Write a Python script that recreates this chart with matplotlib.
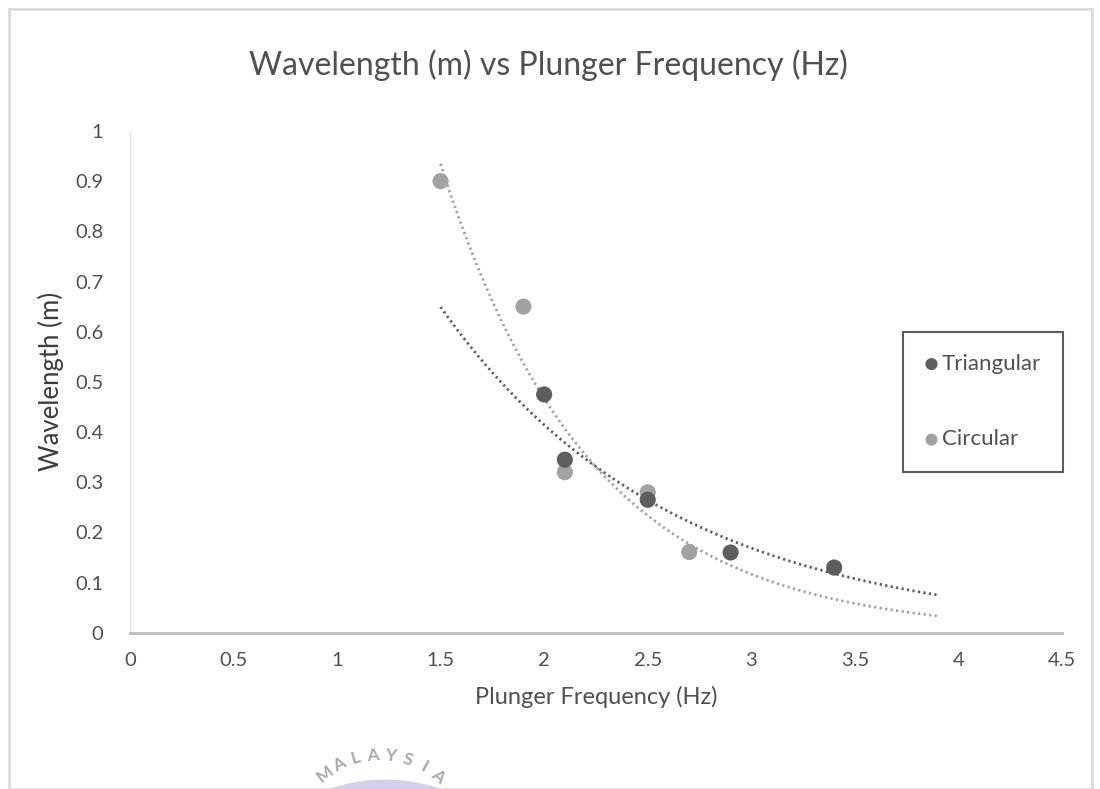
import numpy as np
import matplotlib.pyplot as plt
from matplotlib.patches import Rectangle, Ellipse

# data
tri_freq = [2.0, 2.1, 2.5, 2.9, 3.4]
tri_wave = [0.475, 0.345, 0.265, 0.16, 0.13]
circ_freq = [1.5, 1.9, 2.1, 2.5, 2.7]
circ_wave = [0.9, 0.65, 0.32, 0.28, 0.161]

x_ticks = [0, 0.5, 1, 1.5, 2, 2.5, 3, 3.5, 4, 4.5]
x_labels = ['0', '0.5', '1', '1.5', '2', '2.5', '3', '3.5', '4', '4.5']
y_ticks = [0, 0.1, 0.2, 0.3, 0.4, 0.5, 0.6, 0.7, 0.8, 0.9, 1]
y_labels = ['0', '0.1', '0.2', '0.3', '0.4', '0.5', '0.6', '0.7', '0.8', '0.9', '1']

TRI_COL = '#5e5e5e'
CIRC_COL = '#a2a2a2'
TXT_COL = '#505050'

plt.rcParams['font.family'] = ['Lato', 'DejaVu Sans']

fig = plt.figure(figsize=(11, 7.89), dpi=100)
ax = fig.add_axes([0.118, 0.198, 0.8475, 0.636])


def exp_trend(xs, ys, x0, x1):
    # excel style exponential trendline
    b, lna = np.polyfit(xs, np.log(ys), 1)
    xx = np.linspace(x0, x1, 200)
    return xx, np.exp(lna) * np.exp(b * xx)


xx, yy = exp_trend(tri_freq, tri_wave, 1.5, 3.9)
ax.plot(xx, yy, color=TRI_COL, lw=2, ls=(0, (0.8, 1.2)), zorder=2)
xx, yy = exp_trend(circ_freq, circ_wave, 1.5, 3.9)
ax.plot(xx, yy, color=CIRC_COL, lw=2, ls=(0, (0.8, 1.2)), zorder=2)

ax.scatter(tri_freq, tri_wave, s=135, color=TRI_COL, edgecolors='none', zorder=4, label='Triangular')
ax.scatter(circ_freq, circ_wave, s=135, color=CIRC_COL, edgecolors='none', zorder=3, label='Circular')

ax.set_xlim(0, 4.5)
ax.set_ylim(0, 1)
ax.set_xticks(x_ticks)
ax.set_xticklabels(x_labels)
ax.set_yticks(y_ticks)
ax.set_yticklabels(y_labels)
ax.tick_params(length=0, labelsize=14.5, colors=TXT_COL)
ax.tick_params(axis='x', pad=14)
ax.tick_params(axis='y', pad=19)

for side in ['top', 'right']:
    ax.spines[side].set_visible(False)
ax.spines['bottom'].set_color('#bdbdbd')
ax.spines['bottom'].set_linewidth(2)
ax.spines['left'].set_color('#e4e4e4')
ax.spines['left'].set_linewidth(1)

ax.set_xlabel('Plunger Frequency (Hz)', fontsize=17, color=TXT_COL, labelpad=12)
ax.set_ylabel('Wavelength (m)', fontsize=18.5, color='#3c3c3c', labelpad=8)
fig.text(0.499, 0.917, 'Wavelength (m) vs Plunger Frequency (Hz)', ha='center', va='center',
         fontsize=23, color=TXT_COL)

leg = ax.legend(loc='upper left', bbox_to_anchor=(0.829, 0.600), borderaxespad=0,
                frameon=True, fancybox=False, fontsize=16, labelspacing=2.5,
                handlelength=0.6, handletextpad=0.15, borderpad=1.0,
                markerscale=0.75, labelcolor=TXT_COL)
leg.get_frame().set_edgecolor('#333333')
leg.get_frame().set_linewidth(1.5)

# faint outer chart border from the scan
fig.patches.append(Rectangle((0.008, 0.0), 0.985, 0.988, transform=fig.transFigure,
                             fill=False, edgecolor='#dcdcdc', lw=2))

# watermark logo peeking in at the bottom
fig.patches.append(Ellipse((0.35, -0.206), 2 * 0.156, 2 * 0.218, transform=fig.transFigure,
                           facecolor='#c9c9ec', edgecolor='none', alpha=0.85))
word = 'MALAYSIA'
for i, ch in enumerate(word):
    ang = np.deg2rad(128 - i * 11.2)
    cx, cy = 0.3455 + 0.0818 * np.cos(ang), -0.071 + 0.114 * np.sin(ang)
    fig.text(cx, cy, ch, ha='center', va='center', fontsize=12.5, color='#a8a8a8',
             fontweight='bold', rotation=np.rad2deg(ang) - 90)

fig.savefig('out.png', dpi=100)
